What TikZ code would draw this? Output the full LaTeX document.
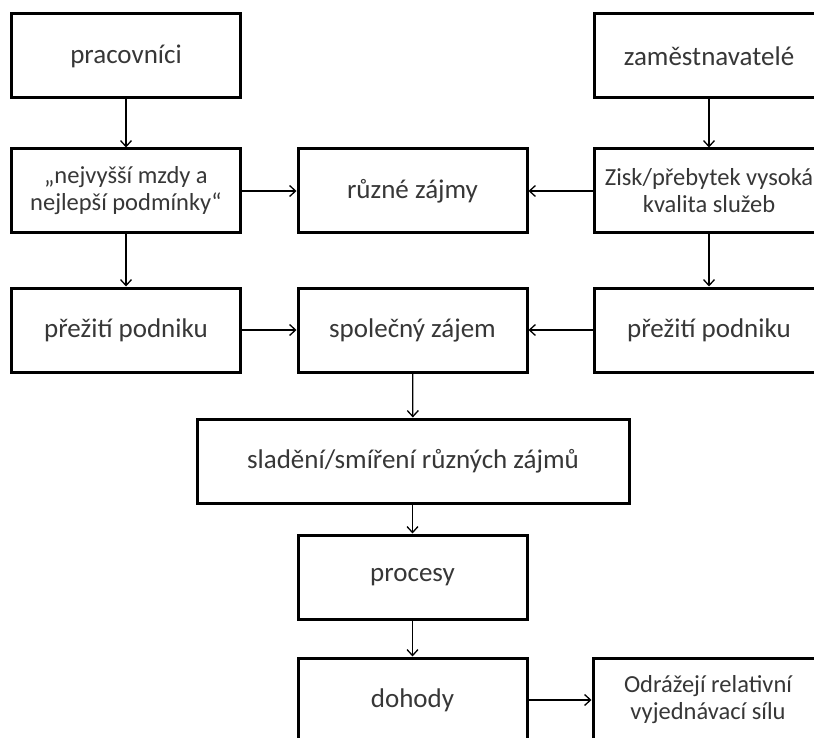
\documentclass[tikz,border=0pt]{standalone}
\usepackage{fontspec}
\setmainfont{Carlito}
\usetikzlibrary{arrows.meta}
\definecolor{txt}{RGB}{55,55,55}
\begin{document}
\begin{tikzpicture}[x=1pt,y=-1pt,
  box/.style={draw=black, line width=3pt, fill=white, text=txt, minimum width=229pt, minimum height=84pt, inner sep=0pt, align=center, font=\fontsize{27}{30}\selectfont},
  twoline/.style={font=\fontsize{24.5}{27}\selectfont},
  arr/.style={draw=black, line width=1.3pt, -{Straight Barb[length=6pt,width=11pt]}}]
\useasboundingbox (0,0) rectangle (814,738);
\fill[white] (0,0) rectangle (814,738);
\clip (0,0) rectangle (814,738);
% left column
\node[box] (prac) at (126,56) {pracovníci};
\node[box,twoline] (mzdy) at (126,191) {„nejvyšší mzdy a\\nejlepší podmínky“};
\node[box] (prezL) at (126,330) {přežití podniku};
% middle column
\node[box] (ruzne) at (412.5,191) {různé zájmy};
\node[box] (spol) at (412.5,330) {společný zájem};
\node[box, minimum width=432pt] (slad) at (413,461) {sladění/smíření různých zájmů};
\node[box] (proc) at (412.5,577) {procesy};
\node[box] (doh) at (412.5,700) {dohody};
% right column
\node[box, minimum width=230pt] (zam) at (709,56) {zaměstnavatelé};
\node[box,twoline, minimum width=230pt] (zisk) at (709,191) {Zisk/přebytek vysoká\\kvalita služeb};
\node[box, minimum width=230pt] (prezR) at (709,330) {přežití podniku};
\node[box,twoline, minimum width=230pt] (odr) at (708,700) {Odrážejí relativní\\vyjednávací sílu};
% connectors
\draw[arr] (prac) -- (mzdy);
\draw[arr] (mzdy) -- (prezL);
\draw[arr] (mzdy) -- (ruzne);
\draw[arr] (zam) -- (zisk);
\draw[arr] (zisk) -- (prezR);
\draw[arr] (zisk) -- (ruzne);
\draw[arr] (prezL) -- (spol);
\draw[arr] (prezR) -- (spol);
\draw[arr] (spol) -- (slad);
\draw[arr] (slad.south -| proc.north) -- (proc);
\draw[arr] (proc) -- (doh);
\draw[arr] (doh) -- (odr);
\end{tikzpicture}
\end{document}
